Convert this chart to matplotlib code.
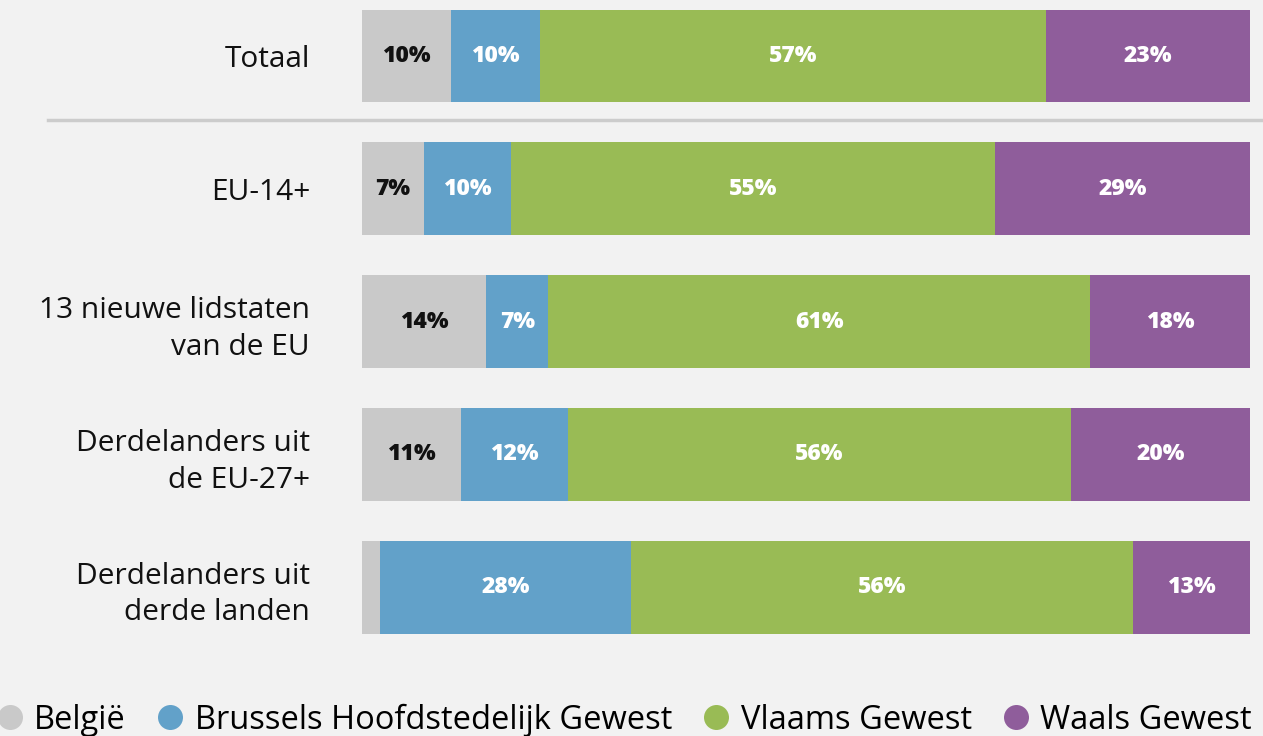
import matplotlib
matplotlib.use("Agg")
import matplotlib.pyplot as plt
from matplotlib.lines import Line2D
import numpy as np

plt.rcParams["font.family"] = ["Open Sans", "DejaVu Sans"]

# --- data ---
categories = ["Totaal", "EU-14+", "13 nieuwe lidstaten\nvan de EU",
              "Derdelanders uit\nde EU-27+", "Derdelanders uit\nderde landen"]
series = ["België", "Brussels Hoofdstedelijk Gewest", "Vlaams Gewest", "Waals Gewest"]
belgie = [10, 7, 14, 11, 2]
brussel = [10, 10, 7, 12, 28]
vlaams = [57, 55, 61, 56, 56]
waals = [23, 29, 18, 20, 13]
show_label = [[True] * 5, [True] * 5, [True] * 5, [True] * 5]
show_label[0][4] = False  # België share too small in the last row

colors = ["#c9c9c9", "#62a1c9", "#99bb55", "#8f5d9b"]
text_colors = ["#111111", "white", "white", "white"]
bg = "#f2f2f2"

values = np.array([belgie, brussel, vlaams, waals], dtype=float)
shares = values / values.sum(axis=0) * 100  # bars fill the full width

W, H = 1263, 736
fig = plt.figure(figsize=(W / 100, H / 100), dpi=100, facecolor=bg)
ax = fig.add_axes([362 / W, 0, 888 / W, 1])
ax.set_facecolor(bg)

y = np.arange(len(categories))
left = np.zeros(len(categories))
for k in range(4):
    ax.barh(y, shares[k], left=left, height=0.70, color=colors[k], edgecolor="none")
    for i in range(len(categories)):
        if show_label[k][i]:
            ax.text(left[i] + shares[k][i] / 2, y[i], f"{values[k][i]:.0f}%",
                    ha="center", va="center", fontsize=16.5, fontweight="heavy",
                    color=text_colors[k])
    left += shares[k]

ax.set_xlim(0, 100)
ax.set_ylim(5.122, -0.4218)
for s in ax.spines.values():
    s.set_visible(False)
ax.set_xticks([])
ax.set_yticks(y)
ax.set_yticklabels(categories, fontsize=21.5, color="#111111", linespacing=1.36)
ax.tick_params(axis="y", length=0, pad=37.5)
for lbl in ax.get_yticklabels():
    lbl.set_horizontalalignment("right")

# separator between total and the breakdown
fig.add_artist(Line2D([48 / W, 1], [1 - 120 / H, 1 - 120 / H], color="#cccccc", lw=2.5))

# legend
handles = [Line2D([], [], marker="o", ls="none", markersize=18, markerfacecolor=c,
                  markeredgecolor="none") for c in colors]
fig.legend(handles, series, loc="center", bbox_to_anchor=(0.493, 1 - 720 / H), ncol=4,
           frameon=False, fontsize=23.5, handletextpad=0.25, columnspacing=0.85,
           borderaxespad=0, handlelength=1.0)

fig.savefig("out.png", dpi=100, facecolor=bg)
